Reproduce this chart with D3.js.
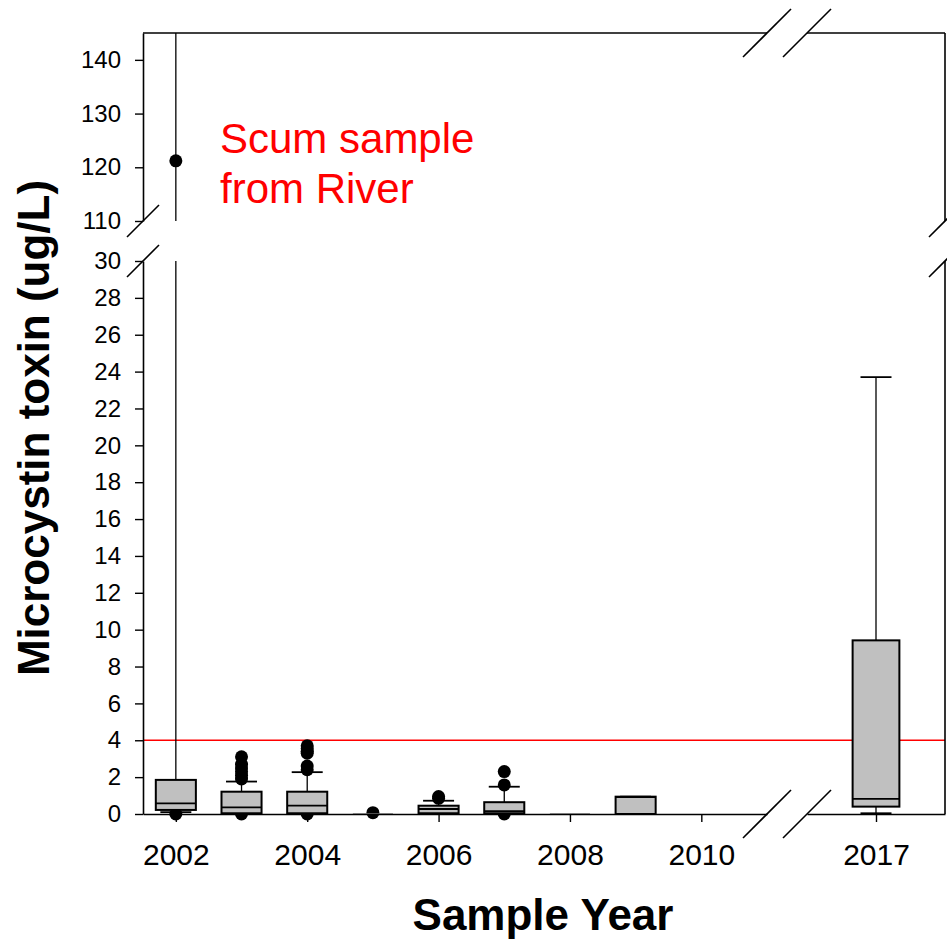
<!DOCTYPE html>
<html><head><meta charset="utf-8">
<script src="https://cdn.jsdelivr.net/npm/d3@7"></script>
<style>body{margin:0;background:#fff}svg{display:block}</style>
</head><body>
<svg id="chart" width="947" height="942"></svg>
<script>
// ---------------- data ----------------
const years       = [2002, 2003, 2004, 2005, 2006, 2007, 2008, 2009, 2017];
const whiskerLow  = [0.10, 0.00, 0.00, 0.00, 0.00, 0.00, 0.00, 0.00, 0.04];
const q1          = [0.22, 0.04, 0.04, 0.00, 0.04, 0.04, 0.00, 0.00, 0.40];
const median      = [0.58, 0.36, 0.45, 0.00, 0.27, 0.16, 0.00, 0.92, 0.82];
const q3          = [1.85, 1.21, 1.21, 0.00, 0.45, 0.64, 0.00, 0.94, 9.42];
const whiskerHigh = [150,  1.76, 2.27, 0.00, 0.72, 1.48, 0.00, 0.94, 23.7];
const outliers    = [
  [121.2, 0],
  [3.1, 2.7, 2.5, 2.3, 2.1, 1.9, 0],
  [3.7, 3.55, 3.4, 3.3, 2.6, 2.4, 0],
  [0.07],
  [0.95, 0.85],
  [2.3, 1.58, 0],
  [],
  [],
  []
];
const xTicksLeft  = [2002, 2004, 2006, 2008, 2010];
const xTicksRight = [2017];
const yTicksLow   = [0, 2, 4, 6, 8, 10, 12, 14, 16, 18, 20, 22, 24, 26, 28, 30];
const yTicksHigh  = [110, 120, 130, 140];
const guideValue  = 4;
const annotation  = ["Scum sample", "from River"];
const xTitle = "Sample Year";
const yTitle = "Microcystin toxin (ug/L)";

(function () {
// ---------------- scales ----------------
const FONT = "'Liberation Sans', Arial, Helvetica, sans-serif";
const xL = d3.scaleLinear().domain([2001.5, 2011]).range([143, 767]);
const xR = d3.scaleLinear().domain([2016.1, 2017.9]).range([807, 945]);
const yLo = d3.scaleLinear().domain([0, 30]).range([814, 261]);
const yHi = d3.scaleLinear().domain([110, 145]).range([221, 33]);
const xOf = yr => (yr > 2011 ? xR : xL);
const yOf = v => (v > 30 ? yHi : yLo);

const pLeft = xL.range()[0], pRight = xR.range()[1];
const pTop = yHi.range()[1], pBottom = yLo.range()[0];

const svg = d3.select("#chart");
const g = svg.append("g");

// ---------------- guide line ----------------
g.append("line")
  .attr("x1", pLeft).attr("x2", pRight)
  .attr("y1", yLo(guideValue)).attr("y2", yLo(guideValue))
  .attr("stroke", "#ff0000").attr("stroke-width", 1.6);

// ---------------- whiskers ----------------
const rows = years.map((yr, i) => ({yr, lo: whiskerLow[i], q1: q1[i], med: median[i], q3: q3[i], hi: whiskerHigh[i], out: outliers[i]}));
const capW = 31;

function vseg(x, a, b) {
  const segs = [];
  const lo = Math.min(a, b), hi = Math.max(a, b);
  if (lo < 30) segs.push([yLo(lo), yLo(Math.min(hi, 30))]);
  if (hi > 110) segs.push([yHi(Math.max(lo, 110)), yHi(Math.min(hi, 145))]);
  segs.forEach(s => g.append("line").attr("x1", x).attr("x2", x).attr("y1", s[0]).attr("y2", s[1])
    .attr("stroke", "#000").attr("stroke-width", 1.3));
}

rows.forEach(d => {
  if (d.q3 - d.q1 <= 0) return;
  const sx = xOf(d.yr), x = sx(d.yr);
  vseg(x, d.q3, d.hi);
  vseg(x, d.lo, d.q1);
  [d.lo, d.hi].forEach(v => {
    if (v <= 145 && !(v > 30 && v < 110)) {
      g.append("line").attr("x1", x - capW / 2).attr("x2", x + capW / 2)
        .attr("y1", yOf(v)(v)).attr("y2", yOf(v)(v))
        .attr("stroke", "#000").attr("stroke-width", 1.8);
    }
  });
});

// ---------------- outliers ----------------
rows.forEach(d => {
  const sx = xOf(d.yr);
  d.out.forEach(v => {
    g.append("circle").attr("cx", sx(d.yr)).attr("cy", yOf(v)(v)).attr("r", 6.5).attr("fill", "#000");
  });
});

// ---------------- boxes ----------------
rows.forEach(d => {
  const sx = xOf(d.yr);
  const x0 = sx(d.yr - 0.305), x1 = sx(d.yr + 0.305);
  if (d.q3 - d.q1 <= 0) {
    g.append("line").attr("x1", x0).attr("x2", x1)
      .attr("y1", yLo(d.q1)).attr("y2", yLo(d.q1))
      .attr("stroke", "#8a8a8a").attr("stroke-width", 1.6);
    return;
  }
  g.append("rect").attr("x", x0).attr("width", x1 - x0)
    .attr("y", yLo(d.q3)).attr("height", yLo(d.q1) - yLo(d.q3))
    .attr("fill", "#c0c0c0").attr("stroke", "#000").attr("stroke-width", 2);
  g.append("line").attr("x1", x0).attr("x2", x1)
    .attr("y1", yLo(d.med)).attr("y2", yLo(d.med))
    .attr("stroke", "#000").attr("stroke-width", 1.8);
});

// ---------------- axes ----------------
function styleAxis(sel, size) {
  sel.attr("font-family", FONT).attr("font-size", size);
  sel.selectAll("path.domain").attr("stroke", "#000").attr("stroke-width", 1.6);
  sel.selectAll(".tick line").attr("stroke", "#000").attr("stroke-width", 1.4);
  sel.selectAll(".tick text").attr("fill", "#000");
}
g.append("g").attr("transform", `translate(${pLeft},0)`)
  .call(d3.axisLeft(yLo).tickValues(yTicksLow).tickSize(8).tickSizeOuter(0).tickPadding(14))
  .call(s => styleAxis(s, 24));
g.append("g").attr("transform", `translate(${pLeft},0)`)
  .call(d3.axisLeft(yHi).tickValues(yTicksHigh).tickSize(8).tickSizeOuter(0).tickPadding(14))
  .call(s => styleAxis(s, 24));
g.append("g").attr("transform", `translate(0,${pBottom})`)
  .call(d3.axisBottom(xL).tickValues(xTicksLeft).tickFormat(d3.format("d")).tickSize(8).tickSizeOuter(0).tickPadding(22))
  .call(s => styleAxis(s, 30));
g.append("g").attr("transform", `translate(0,${pBottom})`)
  .call(d3.axisBottom(xR).tickValues(xTicksRight).tickFormat(d3.format("d")).tickSize(8).tickSizeOuter(0).tickPadding(22))
  .call(s => styleAxis(s, 30));

// frame: top and right
const frame = [
  [[xL.range()[0], pTop], [xL.range()[1], pTop]],
  [[xR.range()[0], pTop], [xR.range()[1], pTop]],
  [[pRight, yHi.range()[0]], [pRight, yHi.range()[1]]],
  [[pRight, yLo.range()[0]], [pRight, yLo.range()[1]]]
];
frame.forEach(p => g.append("line").attr("x1", p[0][0]).attr("y1", p[0][1]).attr("x2", p[1][0]).attr("y2", p[1][1])
  .attr("stroke", "#000").attr("stroke-width", 1.6));

// break marks
const slashes = [];
[pLeft, pRight].forEach(x => {
  [yHi.range()[0], yLo.range()[1]].forEach(y => slashes.push([x, y, 16]));
});
[xL.range()[1], xR.range()[0]].forEach(x => {
  [pTop, pBottom].forEach(y => slashes.push([x, y, 24]));
});
slashes.forEach(([x, y, h]) => g.append("line")
  .attr("x1", x - h).attr("y1", y + h).attr("x2", x + h).attr("y2", y - h)
  .attr("stroke", "#000").attr("stroke-width", 1.6));

// ---------------- texts ----------------
const ann = g.append("text").attr("font-family", FONT).attr("font-size", 42).attr("fill", "#ff0000");
annotation.forEach((t, i) => ann.append("tspan").attr("x", 220).attr("y", 153 + i * 50).text(t));

g.append("text").attr("x", 543).attr("y", 930).attr("text-anchor", "middle")
  .attr("font-family", FONT).attr("font-size", 44).attr("font-weight", "bold").text(xTitle);
g.append("text").attr("transform", "translate(49,428) rotate(-90)").attr("text-anchor", "middle")
  .attr("font-family", FONT).attr("font-size", 44).attr("font-weight", "bold").text(yTitle);
})();
</script>
</body></html>
